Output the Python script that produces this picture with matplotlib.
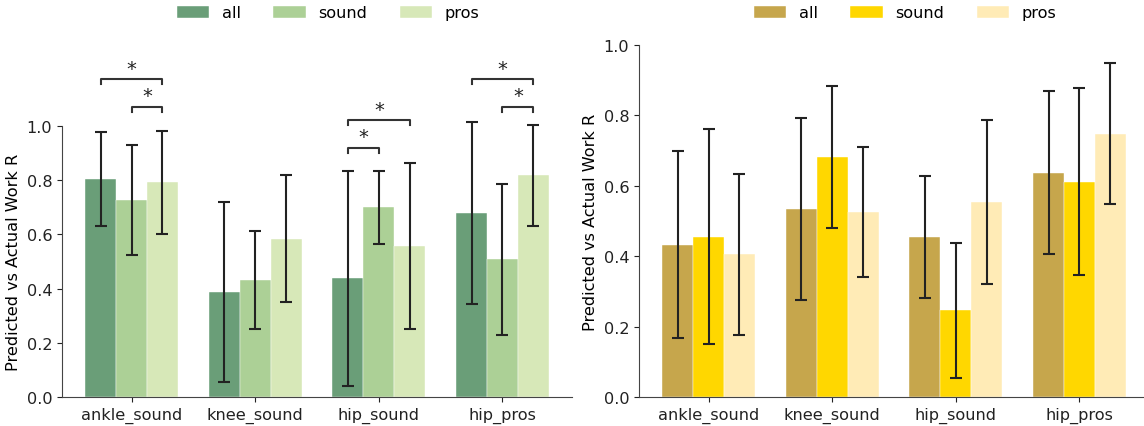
import matplotlib
matplotlib.use("Agg")
import matplotlib.pyplot as plt
import numpy as np

# ---- data ----
joints = ["ankle_sound", "knee_sound", "hip_sound", "hip_pros"]
groups = ["all", "sound", "pros"]

left_mean = {
    "all":   [0.804, 0.389, 0.438, 0.679],
    "sound": [0.726, 0.431, 0.699, 0.508],
    "pros":  [0.791, 0.584, 0.558, 0.817],
}
left_err = {
    "all":   [0.172, 0.331, 0.395, 0.334],
    "sound": [0.202, 0.181, 0.134, 0.279],
    "pros":  [0.191, 0.234, 0.306, 0.186],
}
right_mean = {
    "all":   [0.433, 0.534, 0.456, 0.637],
    "sound": [0.456, 0.681, 0.247, 0.612],
    "pros":  [0.405, 0.525, 0.554, 0.748],
}
right_err = {
    "all":   [0.266, 0.257, 0.173, 0.232],
    "sound": [0.305, 0.202, 0.192, 0.264],
    "pros":  [0.229, 0.185, 0.233, 0.199],
}

# significance brackets on the left panel: (joint index, group a, group b, height)
sig_left = [
    (0, "all", "pros", 1.172),
    (0, "sound", "pros", 1.070),
    (2, "all", "pros", 1.021),
    (2, "all", "sound", 0.919),
    (3, "all", "pros", 1.172),
    (3, "sound", "pros", 1.070),
]

green = ["#6a9e78", "#acd096", "#d7e8b8"]
gold = ["#c6a64c", "#ffd700", "#ffebb6"]

W = 0.25
offs = {"all": -W, "sound": 0.0, "pros": W}
FS = 11.6


def draw_panel(ax, mean, err, colors):
    x = np.arange(len(joints))
    for g, c in zip(groups, colors):
        bc = ax.bar(x + offs[g], mean[g], W, yerr=err[g], color=c, label=g,
                    edgecolor="white", linewidth=0.3,
                    error_kw=dict(ecolor="#222222", elinewidth=1.5, capsize=4, capthick=1.5))
        # let the error bars run past the top of the axes
        data_line, caps, cols = bc.errorbar.lines
        for a in list(caps) + list(cols):
            a.set_clip_on(False)
    ax.set_xticks(x)
    ax.set_xticklabels(joints, fontsize=FS)
    ax.set_ylim(0, 1.0)
    yt = [0, 0.2, 0.4, 0.6, 0.8, 1.0]
    ax.set_yticks(yt)
    ax.set_yticklabels([f"{v:.1f}" for v in yt], fontsize=FS)
    ax.set_xlim(-0.5625, 3.5625)
    ax.set_ylabel("Predicted vs Actual Work R", fontsize=FS)
    for s in ["top", "right"]:
        ax.spines[s].set_visible(False)
    for s in ["left", "bottom"]:
        ax.spines[s].set_color("#444444")
    ax.tick_params(colors="#222222")


fig = plt.figure(figsize=(11.44, 4.27), dpi=100)
ax1 = fig.add_axes([62 / 1144, 28.7 / 427, 510 / 1144, 271.6 / 427])
ax2 = fig.add_axes([639 / 1144, 28.7 / 427, 510 / 1144, 352.6 / 427])

draw_panel(ax1, left_mean, left_err, green)
draw_panel(ax2, right_mean, right_err, gold)

# brackets
for j, a, b, h in sig_left:
    xa = j + offs[a]
    xb = j + offs[b]
    ax1.plot([xa, xa, xb, xb], [h - 0.02, h, h, h - 0.02], color="#333333",
             lw=1.5, clip_on=False)
    ax1.text((xa + xb) / 2, h + 0.005, "*", ha="center", va="bottom",
             fontsize=14, color="#222222", clip_on=False)

leg_kw = dict(ncol=3, frameon=False, fontsize=FS, loc="center")
ax1.legend(bbox_to_anchor=(0.522, (413 - 28.7) / 271.6), **leg_kw)
ax2.legend(bbox_to_anchor=(0.522, (413 - 28.7) / 352.6), **leg_kw)

fig.savefig("out.png", dpi=100)
